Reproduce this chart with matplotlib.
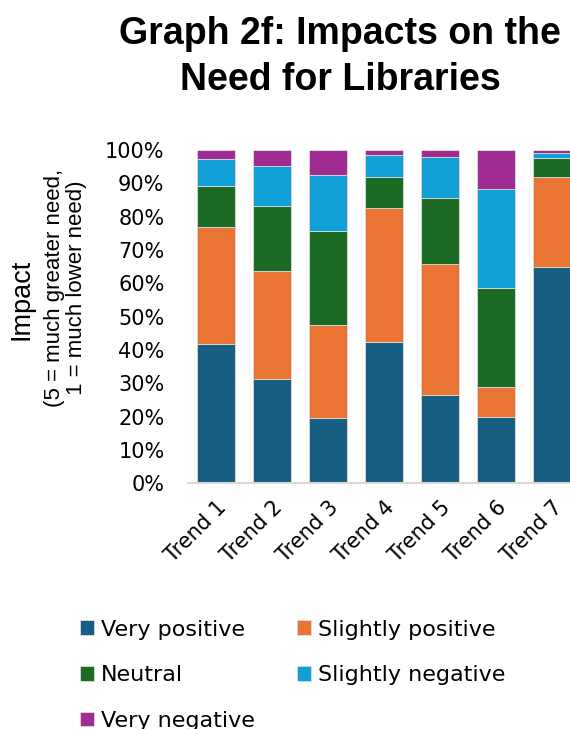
import matplotlib.pyplot as plt
import numpy as np

trends = ['Trend 1', 'Trend 2', 'Trend 3', 'Trend 4', 'Trend 5', 'Trend 6', 'Trend 7']
very_positive = [41.9, 31.3, 19.7, 42.5, 26.5, 20.0, 65.0]
slightly_positive = [35.0, 32.4, 27.8, 40.1, 39.2, 8.9, 27.0]
neutral = [12.2, 19.4, 28.2, 9.4, 19.8, 29.7, 5.8]
slightly_negative = [8.2, 12.2, 16.8, 6.6, 12.5, 29.8, 1.5]
very_negative = [2.7, 4.7, 7.5, 1.4, 2.0, 11.6, 0.7]

series = [
    ('Very positive', very_positive, '#175f82'),
    ('Slightly positive', slightly_positive, '#ea7433'),
    ('Neutral', neutral, '#1b6b25'),
    ('Slightly negative', slightly_negative, '#109fd6'),
    ('Very negative', very_negative, '#a02b93'),
]

fig = plt.figure(figsize=(5.7, 7.29), dpi=100)
ax = fig.add_axes([0.330, 0.337, 0.688, 0.457])

x = np.arange(len(trends))
bottom = np.zeros(len(trends))
handles = {}
for name, vals, col in series:
    vals = np.array(vals)
    b = ax.bar(x, vals, 0.67, bottom=bottom, color=col,
               edgecolor='#dcdcdc', linewidth=0.6, label=name)
    handles[name] = b
    bottom += vals

ax.set_xlim(-0.5, 6.5)
ax.set_ylim(0, 100)
ax.set_yticks(range(0, 101, 10))
ax.set_yticklabels([f'{v}%' for v in range(0, 101, 10)], fontsize=15)
ax.tick_params(axis='y', length=0, pad=17)
ax.tick_params(axis='x', length=0, pad=10)
ax.set_xticks(x)
ax.set_xticklabels(trends, fontsize=15, rotation=45, ha='right',
                   rotation_mode='anchor')
for s in ['top', 'right', 'left']:
    ax.spines[s].set_visible(False)
ax.spines['bottom'].set_color('#d9d9d9')
ax.spines['bottom'].set_linewidth(1.5)

fig.text(0.597, 0.978, 'Graph 2f: Impacts on the\nNeed for Libraries',
         ha='center', va='top', fontsize=27, fontweight='bold',
         family='Liberation Sans', linespacing=1.35)

# axis title, drawn as two separate texts (different sizes)
fig.text(0.037, 0.59, 'Impact', rotation=90, ha='center', va='center',
         fontsize=19.5, family='Liberation Sans')
fig.text(0.115, 0.605, '(5 = much greater need,\n1 = much lower need)',
         rotation=90, ha='center', va='center', fontsize=16,
         family='Liberation Sans', multialignment='center', linespacing=1.1)

order = ['Very positive', 'Neutral', 'Very negative',
         'Slightly positive', 'Slightly negative']
fig.legend([handles[n] for n in order], order, loc='upper left',
           bbox_to_anchor=(0.140, 0.150), ncol=2, frameon=False,
           fontsize=16, handlelength=0.65, handleheight=0.65,
           handletextpad=0.3, labelspacing=1.15, columnspacing=1.9,
           borderpad=0, borderaxespad=0)

fig.savefig('out.png', dpi=100)
